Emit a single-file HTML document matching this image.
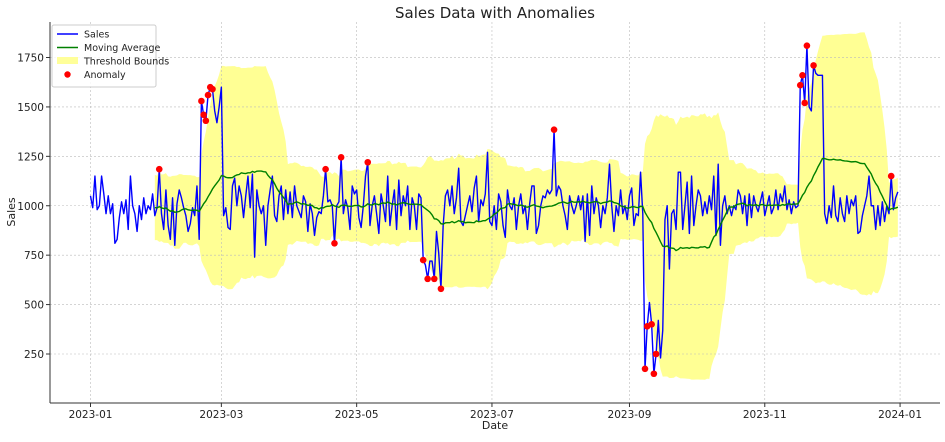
<!DOCTYPE html>
<html><head><meta charset="utf-8"><style>
html,body{margin:0;padding:0;background:#fff}
svg text{font-family:"DejaVu Sans","Liberation Sans",sans-serif}
</style></head><body>
<svg id="chart" width="945" height="437" viewBox="0 0 945 437" xmlns="http://www.w3.org/2000/svg">
<text x="495" y="18" text-anchor="middle" font-size="15" fill="#222">Sales Data with Anomalies</text>
<text x="495" y="429" text-anchor="middle" font-size="11" fill="#222">Date</text>
<text x="15" y="212" text-anchor="middle" font-size="11" fill="#222" transform="rotate(-90 15 212)">Sales</text>
<g id="band"></g>
<g id="grid"></g>
<g id="series"></g>
<g id="axes"></g>
<g id="legend">
<rect x="52" y="25" width="104" height="62" fill="#fff" fill-opacity="0.85" stroke="#ccc" rx="2"/>
<line x1="57" y1="34" x2="78" y2="34" stroke="#0000ff" stroke-width="1.5"/>
<text x="84" y="37.5" font-size="9.5" fill="#222">Sales</text>
<line x1="57" y1="47.5" x2="78" y2="47.5" stroke="#008000" stroke-width="1.5"/>
<text x="84" y="51" font-size="9.5" fill="#222">Moving Average</text>
<rect x="57" y="57" width="21" height="7" fill="#ffff99"/>
<text x="84" y="64.5" font-size="9.5" fill="#222">Threshold Bounds</text>
<circle cx="67.5" cy="74.5" r="3.2" fill="#ff0000"/>
<text x="84" y="78" font-size="9.5" fill="#222">Anomaly</text>
</g>
</svg>
<script>
const sales = [
1050,990,1150,980,1000,1150,1060,960,1050,960,1010,810,830,940,1020,960,1030,880,1150,1000,960,870,1000,930,1040,960,1000,980,1060,950,990,
1185,960,880,1080,900,830,1040,800,1010,1080,1040,990,950,870,910,990,950,1100,830,
1530,1460,1430,1560,1600,1590,1480,1420,1500,1600,
950,990,890,880,1100,1140,1000,1100,1050,940,1050,1150,990,1160,740,1080,1000,960,1000,800,1000,1080,1150,950,920,1050,1100,930,1080,960,
1070,940,1100,1000,970,940,1050,1020,870,1010,960,850,940,970,960,1050,1185,1020,1030,1000,810,1000,1020,1245,960,1030,990,880,1100,1060,
1080,940,890,1000,1150,1220,900,1000,1050,960,860,1060,1000,920,1150,900,1000,1080,880,1130,950,1050,1000,1100,880,1040,1000,880,1060,1040,
725,700,630,720,720,630,870,760,580,900,1050,1080,1000,1100,960,1040,1190,920,900,950,1000,1050,970,1090,1150,920,1030,1000,1060,1270,
920,900,1000,880,1060,1020,900,840,1080,1000,980,1040,880,1000,1060,960,1000,880,1010,1100,1100,860,900,1000,1050,1040,1080,1060,1080,1385,
1050,1100,1080,1000,950,880,1050,1000,960,1000,1050,980,1050,820,1060,850,1100,960,1040,1000,
890,1000,960,1040,1210,1000,870,1000,950,1080,960,1000,930,1050,1090,900,960,950,1170,960,
175,390,510,400,150,250,420,230,370,930,1000,680,960,980,880,1170,1170,880,1000,1120,
860,1150,900,1000,1080,1050,950,1020,960,1050,980,1150,850,1210,800,1000,1050,960,1000,950,
1000,980,1080,1050,960,1050,900,1060,940,1050,1000,970,1020,1070,950,1000,1050,960,990,1080,
980,1060,1020,1100,980,1030,960,1020,990,1000,
1610,1660,1520,1810,1500,1480,1710,1670,1660,1660,1660,
960,910,1000,940,1100,950,920,1040,960,920,1050,960,1030,1000,1050,860,870,950,1000,1050,
1150,1000,1000,880,1000,900,1020,920,1000,960,1150,980,1040,1070
];
const anomalyIdx = [31,50,51,52,53,54,55,106,110,113,125,150,152,155,158,209,250,251,253,254,255,320,321,322,323,326,361];
const yTicks = [250,500,750,1000,1250,1500,1750];
const xTickLabels = ["2023-01","2023-03","2023-05","2023-07","2023-09","2023-11","2024-01"];
const xTickDays = [0,59,120,181,243,304,365];
const windowSize = 30;

const NS="http://www.w3.org/2000/svg";
const L=50,R=940,T=22,B=403;
const xs=d=>90.5+d*2.218;
const ys=v=>403.4-v*0.19765;
function mk(tag,attrs,parent){const e=document.createElementNS(NS,tag);for(const k in attrs)e.setAttribute(k,attrs[k]);parent.appendChild(e);return e;}

// rolling stats
const ma=[],up=[],lo=[];
for(let i=windowSize-1;i<sales.length;i++){
  let s=0;for(let j=i-windowSize+1;j<=i;j++)s+=sales[j];
  const m=s/windowSize;let q=0;for(let j=i-windowSize+1;j<=i;j++)q+=(sales[j]-m)**2;
  const sd=Math.sqrt(q/(windowSize-1));
  ma.push([i,m]);up.push([i,m+2*sd]);lo.push([i,m-2*sd]);
}
const band=document.getElementById('band');
let pts=up.map(p=>xs(p[0])+','+ys(p[1])).concat(lo.slice().reverse().map(p=>xs(p[0])+','+ys(p[1])));
const poly=mk('polygon',{points:pts.join(' '),fill:'#ffff00','fill-opacity':'0.42'},band);



const grid=document.getElementById('grid');
const axes=document.getElementById('axes');
yTicks.forEach(v=>{
  const g=mk('line',{x1:L,x2:R,y1:ys(v),y2:ys(v),stroke:'#bbb','stroke-width':0.6,'stroke-dasharray':'2,2'},grid);
  
  
  mk('line',{x1:L-4,x2:L,y1:ys(v),y2:ys(v),stroke:'#333'},axes);
  const t=mk('text',{x:L-6,y:ys(v)+4,'text-anchor':'end','font-size':'10.5',fill:'#222'},axes);
  t.textContent=v;
  
  
});
xTickDays.forEach((d,i)=>{
  const g=mk('line',{x1:xs(d),x2:xs(d),y1:T,y2:B,stroke:'#bbb','stroke-width':0.6,'stroke-dasharray':'2,2'},grid);
  
  
  mk('line',{x1:xs(d),x2:xs(d),y1:B,y2:B+4,stroke:'#333'},axes);
  const t=mk('text',{x:xs(d),y:B+15,'text-anchor':'middle','font-size':'10.5',fill:'#222'},axes);
  t.textContent=xTickLabels[i];
  
  
});
mk('line',{x1:L,x2:L,y1:T,y2:B,stroke:'#333','stroke-width':1},axes);
mk('line',{x1:L,x2:R,y1:B,y2:B,stroke:'#333','stroke-width':1},axes);

const ser=document.getElementById('series');
const sl=mk('polyline',{points:sales.map((v,i)=>xs(i)+','+ys(v)).join(' '),fill:'none',stroke:'#0000ff','stroke-width':1.4,'stroke-linejoin':'round'},ser);


const ml=mk('polyline',{points:ma.map(p=>xs(p[0])+','+ys(p[1])).join(' '),fill:'none',stroke:'#008000','stroke-width':1.4},ser);


anomalyIdx.forEach(i=>{
  const c=mk('circle',{cx:xs(i),cy:ys(sales[i]),r:3.3,fill:'#ff0000'},ser);
  
  
});
</script>
</body></html>
